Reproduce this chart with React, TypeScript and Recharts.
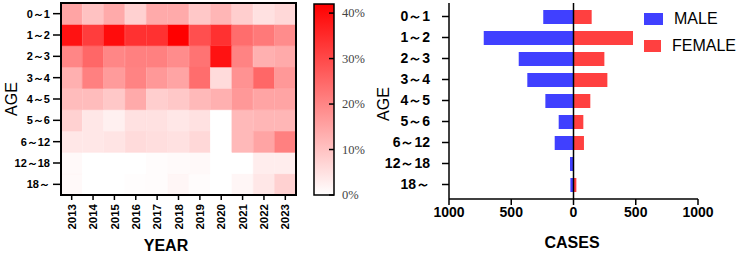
import { BarChart, Bar, XAxis, YAxis, Cell, ReferenceLine, Legend } from 'recharts';

const YEARS = ['2013', '2014', '2015', '2016', '2017', '2018', '2019', '2020', '2021', '2022', '2023'];
const AGES = ['0～1', '1～2', '2～3', '3～4', '4～5', '5～6', '6～12', '12～18', '18～'];

// share of cases (%) of each age group, per year 2013..2023
const SHARE_0_1 = [15, 10, 14, 7.5, 14, 14, 9, 12, 8, 5, 6.5];
const SHARE_1_2 = [39, 32, 40, 34, 34, 42, 29, 34, 24, 22, 19];
const SHARE_2_3 = [20, 25, 20, 21, 21, 19, 23, 39, 20.5, 13, 14];
const SHARE_3_4 = [13, 21, 16.5, 20.5, 17, 15, 24, 6, 18, 25, 17];
const SHARE_4_5 = [11, 11, 9, 14, 8, 9, 11.5, 13, 17, 15, 15];
const SHARE_5_6 = [7.5, 4, 2.5, 5, 5, 4, 5, 0, 11.5, 12, 12];
const SHARE_6_12 = [4, 4, 4.5, 6, 5.5, 5, 6.5, 0, 11.5, 15, 21];
const SHARE_12_18 = [1, 0, 0, 0, 0.5, 0.8, 1, 0, 0, 3, 3];
const SHARE_18_UP = [1, 0, 0, 0.3, 0.5, 1.5, 0.5, 0, 1.5, 4, 7.5];
const SHARES = [SHARE_0_1, SHARE_1_2, SHARE_2_3, SHARE_3_4, SHARE_4_5, SHARE_5_6, SHARE_6_12, SHARE_12_18, SHARE_18_UP];

const SCALE_MAX = 42;
const SCALE_TICKS = [0, 10, 20, 30, 40];

// case counts by age group
const MALE = [243, 721, 440, 371, 226, 119, 151, 28, 25];
const FEMALE = [146, 478, 248, 272, 135, 79, 84, 3, 23];
const CASE_TICKS = [-1000, -500, 0, 500, 1000];
const SERIES_ORDER = ['MALE', 'FEMALE'];

const SANS = 'Liberation Sans, Arial, sans-serif';
const SERIF = 'Liberation Serif, Times New Roman, serif';

// each year is one stacked column of equal-height cells
const gridRows = YEARS.map((year) => {
  const row: Record<string, string | number> = { year };
  AGES.forEach((_, i) => (row[`r${i}`] = 1));
  return row;
});

const pyramidRows = AGES.map((age, i) => ({ age, male: -MALE[i], female: FEMALE[i] }));

function shadeOf(v: number) {
  const g = Math.round(255 * (1 - Math.min(v, SCALE_MAX) / SCALE_MAX));
  return `rgb(255,${g},${g})`;
}

const AxisTitle = ({ x, y, text, angle = 0, bold = false }: any) => (
  <text
    x={x}
    y={y}
    transform={angle ? `rotate(${angle} ${x} ${y})` : undefined}
    textAnchor="middle"
    dominantBaseline="central"
    fontFamily={SANS}
    fontSize={16}
    fontWeight={bold ? 700 : 400}
    fill="#000"
  >
    {text}
  </text>
);

const YearTick = ({ x, y, payload }: any) => (
  <text
    x={-2}
    y={0}
    transform={`translate(${x},${y}) rotate(-90)`}
    textAnchor="end"
    dy="0.36em"
    fontFamily={SANS}
    fontSize={11.5}
    fontWeight={700}
    fill="#000"
  >
    {payload.value}
  </text>
);

const ScaleTick = ({ x, y, payload }: any) => (
  <g>
    <line x1={x - 5} x2={x} y1={y} y2={y} stroke="#000" strokeWidth={1.5} />
    <text x={x + 8} y={y} dy="0.35em" fontFamily={SERIF} fontSize={12.5} fill="#444">
      {payload.value}%
    </text>
  </g>
);

const LegendBox = ({ payload }: any) => {
  const items = [...(payload || [])].sort(
    (a: any, b: any) => SERIES_ORDER.indexOf(a.value) - SERIES_ORDER.indexOf(b.value)
  );
  return (
    <div style={{ fontFamily: SANS }}>
      {items.map((p: any) => (
        <div key={p.value} style={{ display: 'flex', alignItems: 'center', height: 26.5 }}>
          <span style={{ width: 19, height: 12, background: p.color, marginRight: 11 }} />
          <span style={{ fontSize: 16, color: '#000' }}>{p.value}</span>
        </div>
      ))}
    </div>
  );
};

export default function App() {
  const bottomUp = AGES.map((_, i) => AGES.length - 1 - i);
  return (
    <div style={{ position: 'relative', width: 736, height: 254, background: '#fff' }}>
      <style>{'body{margin:0}'}</style>

      <div style={{ position: 'absolute', left: 0, top: 0 }}>
        <BarChart
          width={300}
          height={254}
          data={gridRows}
          margin={{ top: 3, right: 4, left: 0, bottom: 0 }}
          barCategoryGap={0}
          barGap={0}
        >
          <XAxis
            dataKey="year"
            height={59}
            interval={0}
            axisLine={false}
            tickSize={5}
            tickLine={{ stroke: '#000', strokeWidth: 1.5 }}
            tick={<YearTick />}
            label={{ content: () => <AxisTitle x={166} y={245} text="YEAR" bold /> }}
          />
          <YAxis
            type="number"
            domain={[0, AGES.length]}
            ticks={AGES.map((_, i) => i + 0.5)}
            interval={0}
            tickFormatter={(v: number) => AGES[AGES.length - 1 - Math.floor(v)]}
            width={61}
            axisLine={false}
            tickSize={8}
            tickMargin={3}
            tickLine={{ stroke: '#000', strokeWidth: 1.5 }}
            tick={{ fill: '#000', fontSize: 11, fontWeight: 700, fontFamily: SANS }}
            label={{ content: () => <AxisTitle x={11} y={99} angle={-90} text="AGE" /> }}
          />
          {bottomUp.map((r) => (
            <Bar key={r} dataKey={`r${r}`} stackId="grid" isAnimationActive={false}>
              {YEARS.map((y, c) => (
                <Cell key={y} fill={shadeOf(SHARES[r][c])} stroke={shadeOf(SHARES[r][c])} strokeWidth={0.6} />
              ))}
            </Bar>
          ))}
        </BarChart>
        {/* frame around the heatmap plot area */}
        <div
          style={{
            position: 'absolute',
            left: 60,
            top: 2,
            width: 233,
            height: 190,
            border: '2px solid #000',
            pointerEvents: 'none',
          }}
        />
      </div>

      <div style={{ position: 'absolute', left: 300, top: 0 }}>
        <BarChart
          width={80}
          height={254}
          data={[{ level: SCALE_MAX }]}
          margin={{ top: 4, right: 0, left: 14, bottom: 59 }}
          barCategoryGap={0}
        >
          <defs>
            <linearGradient id="scaleFill" x1="0" y1="1" x2="0" y2="0">
              <stop offset="0%" stopColor="#ffffff" />
              <stop offset="100%" stopColor="#ff0000" />
            </linearGradient>
          </defs>
          <XAxis hide />
          <YAxis
            orientation="right"
            type="number"
            domain={[0, SCALE_MAX]}
            ticks={SCALE_TICKS}
            width={46}
            axisLine={false}
            tickLine={false}
            tickSize={0}
            tickMargin={0}
            tick={<ScaleTick />}
          />
          <Bar dataKey="level" fill="url(#scaleFill)" stroke="#000" strokeWidth={1.5} isAnimationActive={false} />
        </BarChart>
      </div>

      <div style={{ position: 'absolute', left: 370, top: 0 }}>
        <BarChart
          width={366}
          height={254}
          data={pyramidRows}
          layout="vertical"
          stackOffset="sign"
          margin={{ top: 3, right: 38, left: 0, bottom: 0 }}
        >
          <XAxis
            type="number"
            domain={[-1000, 1000]}
            ticks={CASE_TICKS}
            interval={0}
            tickFormatter={(v: number) => String(Math.abs(v))}
            height={55}
            tickSize={6}
            axisLine={{ stroke: '#000', strokeWidth: 1.5 }}
            tickLine={{ stroke: '#000', strokeWidth: 1.5 }}
            tick={{ fill: '#000', fontSize: 14, fontWeight: 700, fontFamily: SANS }}
            label={{ content: () => <AxisTitle x={202} y={242} text="CASES" bold /> }}
          />
          <YAxis
            type="category"
            dataKey="age"
            width={79}
            interval={0}
            padding={{ top: 3, bottom: 4 }}
            tickSize={7}
            tickMargin={12}
            axisLine={{ stroke: '#000', strokeWidth: 1.5 }}
            tickLine={{ stroke: '#000', strokeWidth: 1.5 }}
            tick={{ fill: '#000', fontSize: 14, fontWeight: 700, fontFamily: SANS }}
            label={{ content: () => <AxisTitle x={13} y={104} angle={-90} text="AGE" /> }}
          />
          <Bar dataKey="male" name="MALE" stackId="cases" fill="#4040ff" barSize={14} isAnimationActive={false} />
          <Bar dataKey="female" name="FEMALE" stackId="cases" fill="#ff4040" barSize={14} isAnimationActive={false} />
          <ReferenceLine x={0} stroke="#000" strokeWidth={1.5} />
          <Legend
            layout="horizontal"
            align="center"
            verticalAlign="middle"
            content={<LegendBox />}
            wrapperStyle={{ top: 6, left: 274, width: 92 }}
          />
        </BarChart>
      </div>
    </div>
  );
}
